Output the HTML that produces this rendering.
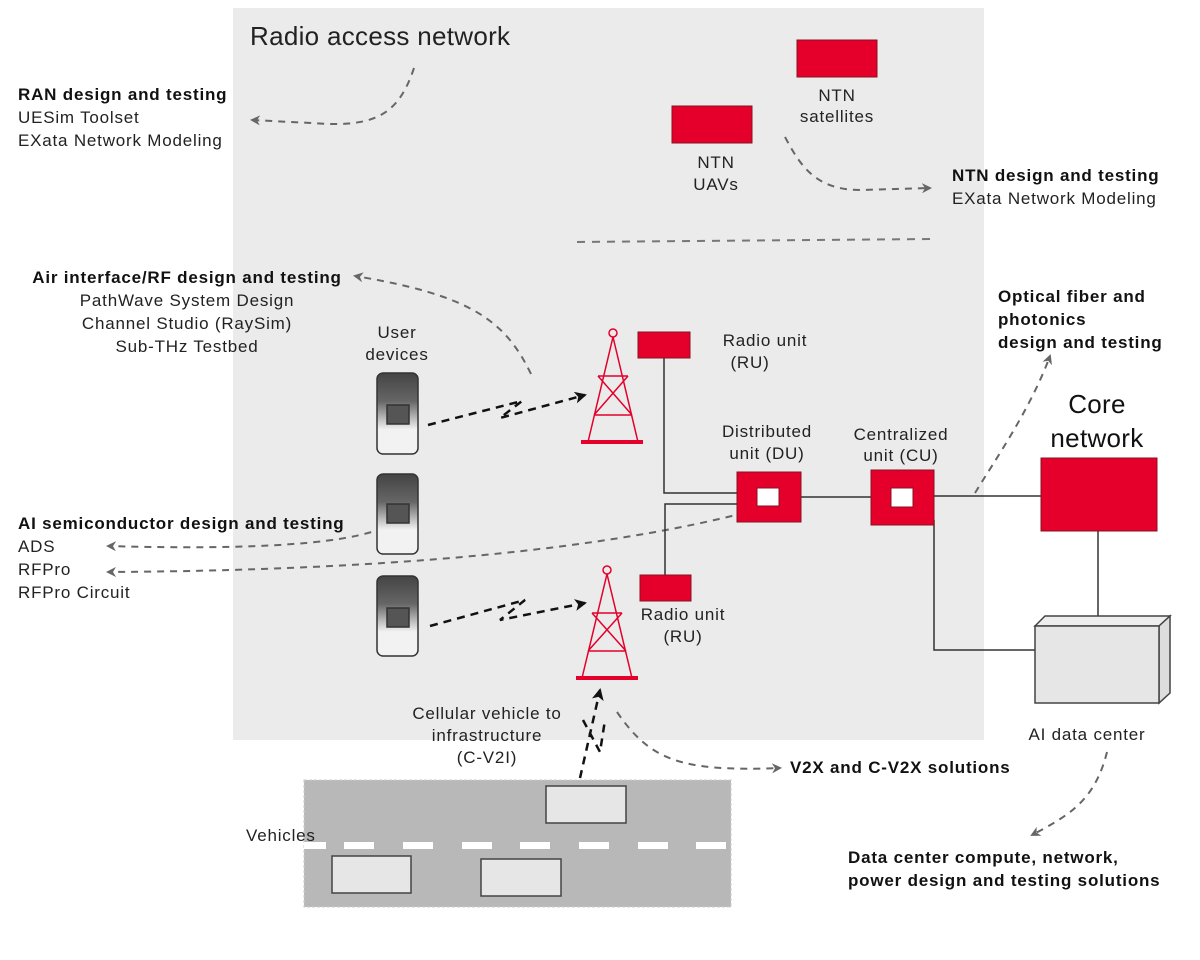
<!DOCTYPE html>
<html><head><meta charset="utf-8"><style>
html,body{margin:0;padding:0;background:#fff;}
svg{display:block;font-family:"Liberation Sans","DejaVu Sans",sans-serif;}
svg text{font-size:17px;letter-spacing:0.8px;}
svg text.big{font-size:26px;letter-spacing:0.3px;}
</style></head><body>
<svg width="1200" height="960" viewBox="0 0 1200 960" xmlns="http://www.w3.org/2000/svg">
<defs>
<marker id="ag" markerWidth="10" markerHeight="10" refX="8" refY="5" orient="auto" markerUnits="userSpaceOnUse"><path d="M0,0 L10,5 L0,10 L3,5 z" fill="#666"/></marker>
<marker id="ab" markerWidth="12" markerHeight="12" refX="10" refY="6" orient="auto" markerUnits="userSpaceOnUse"><path d="M0,0 L12,6 L0,12 L3,6 z" fill="#111"/></marker>
<linearGradient id="ph" x1="0" y1="0" x2="0" y2="1">
<stop offset="0" stop-color="#444"/><stop offset="0.35" stop-color="#666"/><stop offset="0.7" stop-color="#f2f2f2"/><stop offset="1" stop-color="#f2f2f2"/></linearGradient>
</defs>
<rect x="233" y="8" width="751" height="732" fill="#ebebeb"/>
<text class="big" x="250" y="45" fill="#222">Radio access network</text>

<!-- NTN -->
<rect x="797" y="40" width="80" height="37" fill="#e4002b" stroke="#8a1020"/>
<text x="837" y="101" text-anchor="middle" fill="#222">NTN</text>
<text x="837" y="122" text-anchor="middle" fill="#222">satellites</text>
<rect x="672" y="106" width="80" height="37" fill="#e4002b" stroke="#8a1020"/>
<text x="716" y="168" text-anchor="middle" fill="#222">NTN</text>
<text x="716" y="190" text-anchor="middle" fill="#222">UAVs</text>
<path d="M785,137 C800,165 815,190 860,190 L930,188" fill="none" stroke="#666" stroke-width="2" stroke-dasharray="7,6" marker-end="url(#ag)"/>
<path d="M577,242 L930,239" fill="none" stroke="#777" stroke-width="2" stroke-dasharray="8,7"/>

<!-- left labels -->
<text x="18" y="100" font-weight="bold" fill="#111">RAN design and testing</text>
<text x="18" y="123" fill="#222">UESim Toolset</text>
<text x="18" y="146" fill="#222">EXata Network Modeling</text>
<path d="M414,68 C400,110 380,125 330,124 L252,120" fill="none" stroke="#666" stroke-width="2" stroke-dasharray="7,6" marker-end="url(#ag)"/>

<text x="952" y="181" font-weight="bold" fill="#111">NTN design and testing</text>
<text x="952" y="204" fill="#222">EXata Network Modeling</text>

<text x="187" y="283" font-weight="bold" fill="#111" text-anchor="middle">Air interface/RF design and testing</text>
<text x="187" y="306" fill="#222" text-anchor="middle">PathWave System Design</text>
<text x="187" y="329" fill="#222" text-anchor="middle">Channel Studio (RaySim)</text>
<text x="187" y="352" fill="#222" text-anchor="middle">Sub-THz Testbed</text>
<path d="M531,374 C505,320 470,295 355,276" fill="none" stroke="#666" stroke-width="2" stroke-dasharray="7,6" marker-end="url(#ag)"/>

<text x="998" y="302" font-weight="bold" fill="#111">Optical fiber and</text>
<text x="998" y="325" font-weight="bold" fill="#111">photonics</text>
<text x="998" y="348" font-weight="bold" fill="#111">design and testing</text>
<path d="M975,493 C995,460 1030,410 1050,356" fill="none" stroke="#666" stroke-width="2" stroke-dasharray="7,6" marker-end="url(#ag)"/>

<text x="18" y="529" font-weight="bold" fill="#111">AI semiconductor design and testing</text>
<text x="18" y="552" fill="#222">ADS</text>
<text x="18" y="575" fill="#222">RFPro</text>
<text x="18" y="598" fill="#222">RFPro Circuit</text>
<path d="M395,522 C360,545 250,550 108,546" fill="none" stroke="#666" stroke-width="2" stroke-dasharray="7,6" marker-end="url(#ag)"/>
<path d="M770,506 C650,540 450,570 108,572" fill="none" stroke="#666" stroke-width="2" stroke-dasharray="7,6" marker-end="url(#ag)"/>

<!-- User devices -->
<text x="397" y="338" text-anchor="middle" fill="#222">User</text>
<text x="397" y="360" text-anchor="middle" fill="#222">devices</text>
<g stroke="#333" stroke-width="1.5">
<rect x="377" y="373" width="41" height="81" rx="6" fill="url(#ph)"/>
<rect x="387" y="405" width="22" height="19" fill="#555"/>
<rect x="377" y="474" width="41" height="80" rx="6" fill="url(#ph)"/>
<rect x="387" y="504" width="22" height="19" fill="#555"/>
<rect x="377" y="576" width="41" height="80" rx="6" fill="url(#ph)"/>
<rect x="387" y="608" width="22" height="19" fill="#555"/>
</g>
<!-- wireless arrows -->
<g fill="none" stroke="#111" stroke-width="2.5" stroke-dasharray="8,6">
<path d="M428,425 L522,401 L500,418 L585,395" marker-end="url(#ab)"/>
<path d="M430,626 L525,600 L500,620 L585,603" marker-end="url(#ab)"/>
<path d="M580,778 L600,690" marker-end="url(#ab)"/>
<path d="M583,720 L600,752 L605,720"/>
</g>

<!-- towers -->
<g fill="none" stroke="#e4002b" stroke-width="1.5">
<circle cx="613" cy="333" r="4"/>
<path d="M613,337 L588,442 M613,337 L638,442 M598,376 L628,376 M594,415 L632,415 M598,376 L632,415 M628,376 L594,415"/>
<circle cx="607" cy="570" r="4"/>
<path d="M607,574 L582,678 M607,574 L632,678 M592,613 L622,613 M588,651 L626,651 M592,613 L626,651 M622,613 L588,651"/>
</g>
<rect x="581" y="440" width="62" height="4" fill="#e4002b"/>
<rect x="576" y="676" width="62" height="4" fill="#e4002b"/>

<!-- RU, DU, CU -->
<g stroke="#333" stroke-width="1.5" fill="none">
<path d="M664,358 L664,493 L737,493"/>
<path d="M737,504 L665,504 L665,575"/>
<path d="M801,497 L871,497"/>
<path d="M934,496 L1041,496"/>
<path d="M934,520 L934,650 L1035,650"/>
<path d="M1098,531 L1098,616"/>
</g>
<rect x="638" y="332" width="52" height="26" fill="#e4002b" stroke="#8a1020"/>
<rect x="640" y="575" width="51" height="26" fill="#e4002b" stroke="#8a1020"/>
<text x="765" y="346" text-anchor="middle" fill="#222">Radio unit</text>
<text x="750" y="368" text-anchor="middle" fill="#222">(RU)</text>
<text x="683" y="620" text-anchor="middle" fill="#222">Radio unit</text>
<text x="683" y="642" text-anchor="middle" fill="#222">(RU)</text>
<text x="767" y="437" text-anchor="middle" fill="#222">Distributed</text>
<text x="767" y="459" text-anchor="middle" fill="#222">unit (DU)</text>
<text x="901" y="440" text-anchor="middle" fill="#222">Centralized</text>
<text x="901" y="461" text-anchor="middle" fill="#222">unit (CU)</text>
<rect x="737" y="472" width="64" height="50" fill="#e4002b" stroke="#8a1020"/>
<rect x="757" y="488" width="22" height="18" fill="#fff" stroke="#8a1020"/>
<rect x="871" y="470" width="63" height="55" fill="#e4002b" stroke="#8a1020"/>
<rect x="891" y="488" width="22" height="19" fill="#fff" stroke="#8a1020"/>

<!-- Core -->
<text class="big" x="1097" y="413" text-anchor="middle" fill="#111">Core</text>
<text class="big" x="1097" y="447" text-anchor="middle" fill="#111">network</text>
<rect x="1041" y="458" width="116" height="73" fill="#e4002b" stroke="#8a1020"/>

<!-- AI data center -->
<g stroke="#444" stroke-width="1.5" fill="#e6e6e6">
<path d="M1035,626 L1045,616 L1170,616 L1159,626 z" fill="#eee"/>
<path d="M1159,626 L1170,616 L1170,693 L1159,703 z" fill="#ddd"/>
<rect x="1035" y="626" width="124" height="77"/>
</g>
<text x="1087" y="740" text-anchor="middle" fill="#222">AI data center</text>
<path d="M1107,752 C1095,800 1070,815 1032,835" fill="none" stroke="#666" stroke-width="2" stroke-dasharray="7,6" marker-end="url(#ag)"/>
<text x="848" y="863" font-weight="bold" fill="#111">Data center compute, network,</text>
<text x="848" y="886" font-weight="bold" fill="#111">power design and testing solutions</text>

<!-- V2X -->
<text x="487" y="719" text-anchor="middle" fill="#222">Cellular vehicle to</text>
<text x="487" y="741" text-anchor="middle" fill="#222">infrastructure</text>
<text x="487" y="763" text-anchor="middle" fill="#222">(C-V2I)</text>
<path d="M617,712 C650,760 680,772 780,768" fill="none" stroke="#666" stroke-width="2" stroke-dasharray="7,6" marker-end="url(#ag)"/>
<text x="790" y="773" font-weight="bold" fill="#111">V2X and C-V2X solutions</text>

<!-- road -->
<rect x="304" y="780" width="427" height="127" fill="#b8b8b8" stroke="#ccc" stroke-dasharray="3,2"/>
<g fill="#fff">
<rect x="304" y="842" width="22" height="7"/><rect x="344" y="842" width="30" height="7"/><rect x="403" y="842" width="30" height="7"/><rect x="462" y="842" width="30" height="7"/><rect x="520" y="842" width="30" height="7"/><rect x="579" y="842" width="30" height="7"/><rect x="638" y="842" width="30" height="7"/><rect x="696" y="842" width="30" height="7"/>
</g>
<g fill="#e6e6e6" stroke="#444" stroke-width="1.5">
<rect x="546" y="786" width="80" height="37"/>
<rect x="332" y="856" width="79" height="37"/>
<rect x="481" y="859" width="80" height="37"/>
</g>
<text x="246" y="841" fill="#222">Vehicles</text>
</svg>
</body></html>
